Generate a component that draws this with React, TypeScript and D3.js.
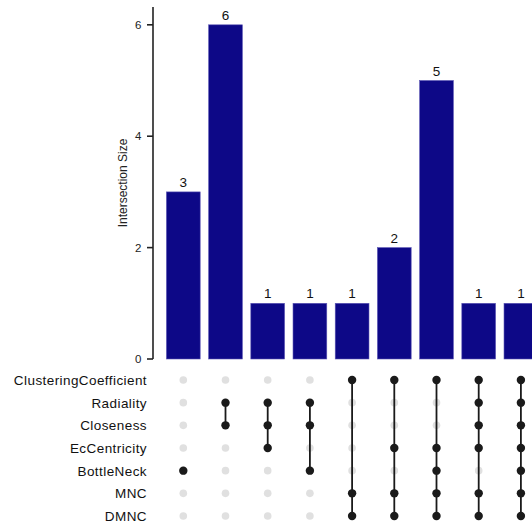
import React from "react";
import * as d3 from "d3";

const sets = ["ClusteringCoefficient", "Radiality", "Closeness", "EcCentricity", "BottleNeck", "MNC", "DMNC"];
const sizes = [3, 6, 1, 1, 1, 2, 5, 1, 1];
const members: string[][] = [
  ["BottleNeck"],
  ["Radiality", "Closeness"],
  ["Radiality", "Closeness", "EcCentricity"],
  ["Radiality", "Closeness", "BottleNeck"],
  ["ClusteringCoefficient", "MNC", "DMNC"],
  ["ClusteringCoefficient", "EcCentricity", "MNC", "DMNC"],
  ["ClusteringCoefficient", "EcCentricity", "BottleNeck", "MNC", "DMNC"],
  ["ClusteringCoefficient", "Radiality", "Closeness", "EcCentricity", "MNC", "DMNC"],
  ["ClusteringCoefficient", "Radiality", "Closeness", "EcCentricity", "BottleNeck", "MNC", "DMNC"],
];
const yTicks = [0, 2, 4, 6];

export default function App() {
  const W = 532, H = 523;
  const font = "Liberation Sans, Arial, sans-serif";
  const x = d3.scaleBand<number>()
    .domain(sizes.map((_, i) => i))
    .range([162.2, 162.2 + 9 * 42.2])
    .paddingInner(0.2)
    .paddingOuter(0.1);
  const y = d3.scaleLinear().domain([0, 6.32]).range([359, 7]);
  const row = d3.scalePoint<string>().domain(sets).range([380, 516]);
  const axisX = 153;
  const bw = x.bandwidth();

  return (
    <svg width={W} height={H} style={{ position: "absolute", left: 0, top: 0, background: "#fff" }} fontFamily={font}>
      {/* y axis */}
      <line x1={axisX} x2={axisX} y1={y(6.32)} y2={y(0)} stroke="#222" strokeWidth={1.6} />
      {yTicks.map((t) => (
        <g key={t}>
          <line x1={axisX - 6} x2={axisX} y1={y(t)} y2={y(t)} stroke="#222" strokeWidth={1.6} />
          <text x={axisX - 11.5} y={y(t)} dy="0.36em" textAnchor="end" fontSize={11.5} fill="#222">{t}</text>
        </g>
      ))}
      <text transform={`translate(127,${(y(6.32) + y(0)) / 2}) rotate(-90)`} textAnchor="middle" fontSize={12} fill="#222">Intersection Size</text>
      {/* bars */}
      {sizes.map((v, i) => (
        <g key={i}>
          <rect x={x(i)!} y={y(v)} width={bw} height={y(0) - y(v)} fill="#0D0887" stroke="#5b55b5" strokeWidth={0.6} />
          <text x={x(i)! + bw / 2} y={y(v) - 5} textAnchor="middle" fontSize={13.5} fill="#111">{v}</text>
        </g>
      ))}
      {/* set labels */}
      {sets.map((s) => (
        <text key={s} x={147} y={row(s)!} dy="0.36em" textAnchor="end" fontSize={13.5} letterSpacing={0.42} fill="#111">{s}</text>
      ))}
      {/* matrix */}
      {sizes.map((_, i) => {
        const cx = x(i)! + bw / 2;
        const ys = members[i].map((m) => row(m)!);
        const y1 = d3.min(ys)!, y2 = d3.max(ys)!;
        return (
          <g key={i}>
            {sets.map((s) => (
              <circle key={s} cx={cx} cy={row(s)!} r={3.8} fill="#e0e0e0" />
            ))}
            {ys.length > 1 && <line x1={cx} x2={cx} y1={y1} y2={y2} stroke="#1a1a1a" strokeWidth={1.8} />}
            {ys.map((yy, k) => (
              <circle key={k} cx={cx} cy={yy} r={4.2} fill="#1a1a1a" />
            ))}
          </g>
        );
      })}
    </svg>
  );
}
